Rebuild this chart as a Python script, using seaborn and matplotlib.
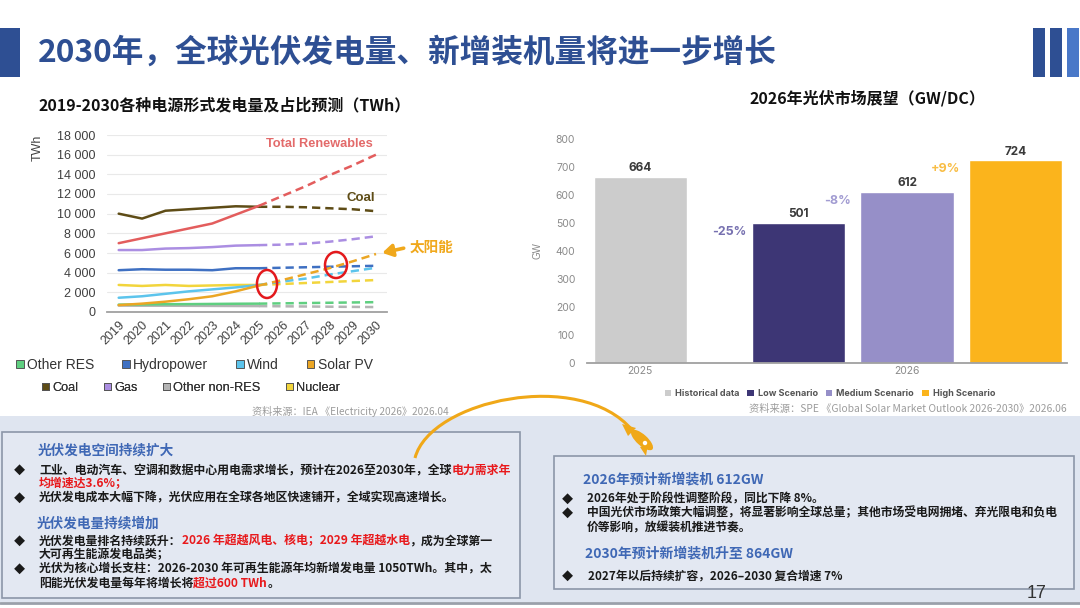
import numpy as np
import pandas as pd
import matplotlib
matplotlib.use('Agg')
import matplotlib.pyplot as plt
import seaborn as sns
from matplotlib.patches import Rectangle, Ellipse, PathPatch, Patch, Polygon, Circle
from matplotlib.path import Path
from matplotlib.ticker import FuncFormatter

# ---- left chart data (IEA, TWh) ----
years = list(range(2019, 2031))
last_actual = 2025
total_renewables = [7000, 7500, 8000, 8500, 9000, 9900, 10800, 11800, 12800, 13900, 14900, 16000]
coal = [10000, 9500, 10300, 10450, 10600, 10750, 10700, 10700, 10650, 10550, 10450, 10250]
gas = [6300, 6300, 6450, 6500, 6600, 6750, 6800, 6850, 6950, 7150, 7400, 7700]
hydropower = [4250, 4350, 4300, 4300, 4250, 4450, 4450, 4500, 4550, 4600, 4650, 4700]
nuclear = [2750, 2650, 2750, 2650, 2700, 2750, 2750, 2850, 2950, 3050, 3150, 3250]
wind = [1450, 1600, 1850, 2100, 2300, 2500, 2750, 3100, 3400, 3800, 4150, 4500]
solar_pv = [700, 850, 1050, 1300, 1600, 2100, 2700, 3250, 3850, 4450, 5150, 5900]
other_res = [750, 770, 790, 800, 820, 840, 850, 880, 910, 940, 970, 1000]
other_non_res = [650, 640, 640, 630, 620, 610, 600, 580, 560, 540, 520, 500]

line_colors = {
    'Other non-RES': '#b4b4b4',
    'Other RES': '#5fcf80',
    'Nuclear': '#f2d53c',
    'Wind': '#5cc4ec',
    'Hydropower': '#3f70c2',
    'Solar PV': '#eba624',
    'Gas': '#ab8ee2',
    'Coal': '#5e4c16',
    'Total Renewables': '#e35d5d',
}
legend_rows = [['Other RES', 'Hydropower', 'Wind', 'Solar PV'],
               ['Coal', 'Gas', 'Other non-RES', 'Nuclear']]

# ---- right chart data (SPE, GW) ----
periods = ['2025', '2026', '2026', '2026']
scenarios = ['Historical data', 'Low Scenario', 'Medium Scenario', 'High Scenario']
gw = [664, 501, 612, 724]
changes = ['', '-25%', '-8%', '+9%']
bar_colors = {'Historical data': '#cccccc', 'Low Scenario': '#3d3675',
              'Medium Scenario': '#968fc8', 'High Scenario': '#fbb41c'}
change_colors = ['#7771b0', '#a29cd2', '#f8bd45']

sns.set_theme(style='white')
plt.rcParams['font.family'] = ['Noto Sans CJK SC', 'DejaVu Sans']
plt.rcParams['axes.unicode_minus'] = False
LAT = ['Liberation Sans', 'Noto Sans CJK SC']
INTER = ['Inter', 'DejaVu Sans']

W, H = 1080, 608
fig = plt.figure(figsize=(W / 100, H / 100), dpi=100)
bg = fig.add_axes([0, 0, 1, 1], zorder=-10)
bg.set_xlim(0, W)
bg.set_ylim(H, 0)
bg.axis('off')
renderer = fig.canvas.get_renderer()


def runs(x, y, parts, size, weight='bold'):
    # mixed-colour line: place each piece after the previous one
    for s, c in parts:
        t = bg.text(x, y, s, color=c, fontsize=size, fontweight=weight, va='center', ha='left')
        x += t.get_window_extent(renderer).width


# ---- slide header ----
blue = '#2e4f93'
bg.add_patch(Rectangle((0, 28), 20, 49, fc=blue, ec='none'))
for x0, c in [(1033, blue), (1050, blue), (1067, '#4a78c8')]:
    bg.add_patch(Rectangle((x0, 28), 12, 49, fc=c, ec='none'))
bg.text(38, 53, '2030年，全球光伏发电量、新增装机量将进一步增长', fontsize=22.8,
        fontweight='bold', color=blue, va='center')

# ---- left chart ----
gen = pd.DataFrame({
    'Other non-RES': other_non_res, 'Other RES': other_res, 'Nuclear': nuclear,
    'Wind': wind, 'Hydropower': hydropower, 'Solar PV': solar_pv, 'Gas': gas,
    'Coal': coal, 'Total Renewables': total_renewables,
})
gen['year'] = years
gen = gen.melt(id_vars='year', var_name='source', value_name='TWh')
order = list(line_colors)

ax1 = fig.add_axes([107 / W, 1 - 312 / H, 280 / W, 177 / H], facecolor='none')
sns.lineplot(data=gen[gen.year <= last_actual], x='year', y='TWh', hue='source',
             hue_order=order, palette=line_colors, lw=1.8, errorbar=None,
             legend=False, ax=ax1)
sns.lineplot(data=gen[gen.year >= last_actual], x='year', y='TWh', hue='source',
             hue_order=order, palette=line_colors, lw=1.8, errorbar=None,
             linestyle=(0, (3.3, 2.0)), legend=False, ax=ax1)
ax1.set_xlim(2018.5, 2030.47)
ax1.set_ylim(0, 18000)
ax1.set_yticks(range(0, 18001, 2000))
ax1.yaxis.set_major_formatter(FuncFormatter(lambda v, p: f'{v:,.0f}'.replace(',', ' ')))
ax1.set_xticks(years)
ax1.set_xlabel('')
ax1.set_ylabel('')
ax1.grid(axis='y', color='#e9e9e9', lw=0.8)
ax1.set_axisbelow(True)
for s in ['left', 'right', 'top']:
    ax1.spines[s].set_visible(False)
ax1.spines['bottom'].set_color('#a0a0a0')
ax1.spines['bottom'].set_linewidth(1.3)
ax1.tick_params(axis='y', length=0, pad=8.5, labelsize=9, labelcolor='#404040')
ax1.tick_params(axis='x', length=0, pad=5, labelsize=9, labelcolor='#404040')
for lab in ax1.get_yticklabels():
    lab.set_family(LAT)
for lab in ax1.get_xticklabels():
    lab.set_family(LAT)
    lab.set_rotation(45)
    lab.set_ha('right')
    lab.set_va('top')
    lab.set_rotation_mode('anchor')
ax1.text(-0.246, 0.93, 'TWh', transform=ax1.transAxes, rotation=90, fontsize=9,
         color='#444444', family=LAT, ha='center', va='center')
ax1.text(2025.3, 17100, 'Total Renewables', color='#e36a6a', fontsize=9.2,
         fontweight='bold', family=LAT, va='center')
ax1.text(2028.75, 11600, 'Coal', color='#5e4c16', fontsize=9.5,
         fontweight='bold', family=LAT, va='center')
ax1.text(2031.45, 6600, '太阳能', color='#f0a81c', fontsize=10.5,
         fontweight='bold', va='center', clip_on=False)
ax1.annotate('', xy=(2030.15, 5950), xytext=(2031.3, 6550), annotation_clip=False,
             arrowprops=dict(arrowstyle='-|>,head_length=0.5,head_width=0.3',
                             color='#f0a81c', lw=2.6))
for cx, cy, ew, eh in [(2025.34, 2850, 0.86, 2850), (2028.29, 4780, 0.94, 2650)]:
    ax1.add_patch(Ellipse((cx, cy), ew, eh, fill=False, ec='#e3191c', lw=1.8, zorder=5))

# left legend, two rows
for row, (cx, cy), size in zip(legend_rows, [(0.312, -0.30), (0.30, -0.43)], [10, 9.2]):
    handles = [Patch(fc=line_colors[n], ec='#555555', lw=0.7, label=n) for n in row]
    leg = ax1.legend(handles=handles, ncol=4, loc='center', bbox_to_anchor=(cx, cy),
                     frameon=False, handlelength=0.55, handleheight=0.55,
                     handletextpad=0.25, columnspacing=2.0,
                     prop={'family': LAT, 'size': size})
    for t in leg.get_texts():
        t.set_color('#333333')
    ax1.add_artist(leg)

bg.text(225, 105, '2019-2030各种电源形式发电量及占比预测（TWh）', fontsize=11.5,
        fontweight='bold', color='#111111', ha='center', va='center')
bg.text(252, 411, '资料来源：IEA 《Electricity 2026》2026.04', fontsize=7.3,
        color='#9c9c9c', va='center')

# ---- right chart ----
market = pd.DataFrame({'year': periods, 'scenario': scenarios, 'GW': gw, 'change': changes})
ax2 = fig.add_axes([587 / W, 1 - 363 / H, 480 / W, 224 / H], facecolor='none')
sns.barplot(data=market[market.scenario == scenarios[0]], x='year', y='GW',
            order=['2025', '2026'], color=bar_colors[scenarios[0]], saturation=1,
            width=0.349, errorbar=None, ax=ax2)
sns.barplot(data=market[market.scenario != scenarios[0]], x='year', y='GW',
            hue='scenario', hue_order=scenarios[1:], order=['2025', '2026'],
            palette=bar_colors, saturation=1, width=1.22, gap=0.142,
            errorbar=None, legend=False, ax=ax2)
ax2.set_xlim(-0.2, 1.6)
ax2.set_ylim(0, 800)
ax2.set_yticks(range(0, 801, 100))
ax2.set_xlabel('')
ax2.set_ylabel('GW', fontsize=7, color='#888888', family=LAT)
ax2.yaxis.set_label_coords(-0.092, 0.5)
for s in ['left', 'right', 'top']:
    ax2.spines[s].set_visible(False)
ax2.spines['bottom'].set_color('#a0a0a0')
ax2.spines['bottom'].set_linewidth(1.3)
ax2.tick_params(axis='y', length=0, pad=8.5, labelsize=7.5, labelcolor='#8a8a8a')
ax2.tick_params(axis='x', length=0, pad=2, labelsize=7.5, labelcolor='#8a8a8a')
for lab in ax2.get_yticklabels() + ax2.get_xticklabels():
    lab.set_family(INTER)

for cont in ax2.containers:
    ax2.bar_label(cont, fmt='%d', padding=2, fontsize=8.5, fontweight='bold',
                  color='#3a3a3a', family=INTER)
for cont, ch, col in zip(ax2.containers[1:], changes[1:], change_colors):
    bar = cont.patches[0]
    ax2.annotate(ch, xy=(bar.get_x(), bar.get_height()), xytext=(-23, -9),
                 textcoords='offset pixels', ha='center', va='center', fontsize=9,
                 fontweight='bold', color=col, family=INTER)

leg2 = ax2.legend(handles=[Patch(fc=bar_colors[s], ec='none', label=s) for s in scenarios],
                  ncol=4, loc='center', bbox_to_anchor=(0.506, -0.138), frameon=False,
                  handlelength=0.7, handleheight=0.7, handletextpad=0.45, columnspacing=0.9,
                  prop={'family': INTER, 'size': 6.5, 'weight': 'bold'})
for t in leg2.get_texts():
    t.set_color('#555555')

bg.text(867, 98, '2026年光伏市场展望（GW/DC）', fontsize=11.5, fontweight='bold',
        color='#111111', ha='center', va='center')
bg.text(749, 409, '资料来源：SPE 《Global Solar Market Outlook 2026-2030》2026.06',
        fontsize=7.4, color='#9c9c9c', va='center')

# ---- bottom panel ----
bg.add_patch(Rectangle((0, 416), W, 186, fc='#dfe5f0', ec='none'))
bg.plot([0, W], [603, 603], color='#9aa0aa', lw=2)
bg.add_patch(Rectangle((2, 432), 518, 166, fc='#e3e8f2', ec='#8c96a8', lw=1.2))
bg.add_patch(Rectangle((554, 456), 520, 133, fc='#e3e8f2', ec='#8c96a8', lw=1.2))

orange = '#f0a818'
arc = Path([(415, 458), (430, 400), (580, 368), (632, 430)],
           [Path.MOVETO, Path.CURVE4, Path.CURVE4, Path.CURVE4])
bg.add_patch(PathPatch(arc, fc='none', ec=orange, lw=2.2, zorder=3))
bg.add_patch(Ellipse((642, 440), 28, 11, angle=42, fc=orange, ec='none', zorder=4))
bg.add_patch(Polygon([(628, 436), (622, 424), (636, 428)], fc=orange, ec='none', zorder=4))
bg.add_patch(Polygon([(640, 447), (646, 456), (648, 444)], fc=orange, ec='none', zorder=4))
bg.add_patch(Circle((645, 443), 2.2, fc='white', ec='none', zorder=5))

dark, red, hblue = '#1a1a1a', '#e8191c', '#3f68b5'
fs = 8.6
bg.text(38, 450, '光伏发电空间持续扩大', fontsize=9.8, fontweight='bold', color=hblue, va='center')
for y in [470, 498, 541, 569]:
    bg.text(19, y, '◆', fontsize=8, color=dark, ha='center', va='center')
runs(39, 470, [('工业、电动汽车、空调和数据中心用电需求增长，预计在2026至2030年，全球', dark),
               ('电力需求年', red)], fs)
runs(39, 484, [('均增速达3.6%；', red)], fs)
runs(39, 498, [('光伏发电成本大幅下降，光伏应用在全球各地区快速铺开，全域实现高速增长。', dark)], fs)
bg.text(37, 523, '光伏发电量持续增加', fontsize=9.8, fontweight='bold', color=hblue, va='center')
runs(39, 541, [('光伏发电量排名持续跃升：', dark), ('2026 年超越风电、核电；2029 年超越水电', red),
               ('，成为全球第一', dark)], fs)
runs(39, 555, [('大可再生能源发电品类；', dark)], fs)
runs(39, 569, [('光伏为核心增长支柱：2026-2030 年可再生能源年均新增发电量 1050TWh。其中，太', dark)], fs)
runs(39, 583, [('阳能光伏发电量每年将增长将', dark), ('超过600 TWh', red), ('。', dark)], fs)

bg.text(583, 479, '2026年预计新增装机 612GW', fontsize=10, fontweight='bold', color=hblue, va='center')
for y in [499, 513, 576]:
    bg.text(567, y, '◆', fontsize=8, color=dark, ha='center', va='center')
runs(587, 499, [('2026年处于阶段性调整阶段，同比下降 8%。', dark)], 8.5)
runs(587, 513, [('中国光伏市场政策大幅调整，将显著影响全球总量；其他市场受电网拥堵、弃光限电和负电', dark)], 8.5)
runs(587, 528, [('价等影响，放缓装机推进节奏。', dark)], 8.5)
bg.text(585, 553, '2030年预计新增装机升至 864GW', fontsize=10, fontweight='bold', color=hblue, va='center')
runs(588, 576, [('2027年以后持续扩容，2026–2030 复合增速 7%', dark)], 8.5)
bg.text(1037, 593, '17', fontsize=13, color='#333333', ha='center', va='center', family=LAT)

fig.savefig('out.png', dpi=100)
